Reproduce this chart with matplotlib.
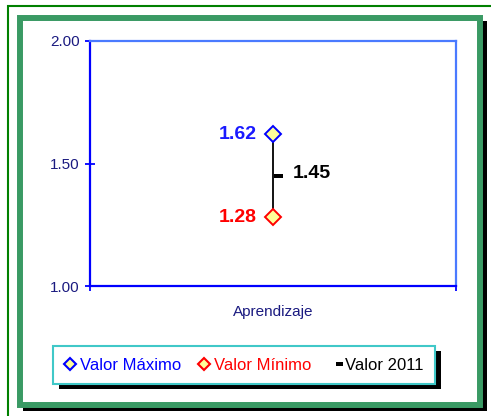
import numpy as np
import matplotlib.pyplot as plt
from matplotlib.patches import Rectangle
from matplotlib.path import Path
from matplotlib.lines import Line2D

plt.rcParams['font.family'] = ['Liberation Sans', 'DejaVu Sans']

# data
category = ["Aprendizaje"]
valor_maximo = [1.62]
valor_minimo = [1.28]
valor_2011 = [1.45]
y_ticks = [1.00, 1.50, 2.00]

W, H = 491, 416


def fx(x):
    return x / W


def fy(y):
    return 1 - y / H


fig = plt.figure(figsize=(W / 100, H / 100), dpi=100)
fig.patch.set_facecolor("white")

# outer thin green line (only left and top are visible)
fig.add_artist(Line2D([fx(7.5), fx(7.5), 1.0], [0.0, fy(5.5), fy(5.5)],
                      transform=fig.transFigure, color="#008000", lw=1.5,
                      solid_joinstyle="miter", zorder=-5))
# black shadow + thick green frame
fig.add_artist(Rectangle((fx(23), fy(411)), fx(487 - 23), (411 - 21) / H,
                         transform=fig.transFigure, facecolor="black",
                         edgecolor="none", zorder=-4))
fig.add_artist(Rectangle((fx(20), fy(405)), fx(480 - 20), (405 - 18) / H,
                         transform=fig.transFigure, facecolor="white",
                         edgecolor="#3a9a64", lw=4.3, zorder=-3))

ax = fig.add_axes([fx(90), fy(286), fx(456 - 90), (286 - 41) / H])
ax.set_facecolor("white")

x = np.arange(len(category)) + 0.5

# high-low line
for xi, lo, hi in zip(x, valor_minimo, valor_maximo):
    ax.plot([xi, xi], [lo, hi], color="black", lw=1.3, zorder=2)

# close marker: bar to the right of the line
tick_marker = Path([(0.1, -0.22), (1, -0.22), (1, 0.22), (0.1, 0.22), (0.1, -0.22)],
                   [Path.MOVETO, Path.LINETO, Path.LINETO, Path.LINETO, Path.CLOSEPOLY])
ax.plot(x, valor_2011, linestyle="none", marker=tick_marker, markersize=15,
        color="black", markeredgewidth=0, zorder=3)

ax.plot(x, valor_maximo, linestyle="none", marker="D", markersize=8,
        markerfacecolor="#ffff99", markeredgecolor="#0000ff",
        markeredgewidth=1.4, zorder=4)
ax.plot(x, valor_minimo, linestyle="none", marker="D", markersize=8,
        markerfacecolor="#ffff99", markeredgecolor="#ff0000",
        markeredgewidth=1.4, zorder=4)

for xi, v in zip(x, valor_maximo):
    ax.annotate(f"{v:.2f}", (xi, v), xytext=(-12, 0), textcoords="offset points",
                ha="right", va="center", fontsize=14, fontweight="bold",
                color="#1a1aff")
for xi, v in zip(x, valor_minimo):
    ax.annotate(f"{v:.2f}", (xi, v), xytext=(-12, 0), textcoords="offset points",
                ha="right", va="center", fontsize=14, fontweight="bold",
                color="#ff0000")
for xi, v in zip(x, valor_2011):
    ax.annotate(f"{v:.2f}", (xi, v), xytext=(14, 1.5), textcoords="offset points",
                ha="left", va="center", fontsize=14, fontweight="bold",
                color="black")

ax.set_xlim(0, len(category))
ax.set_ylim(y_ticks[0], y_ticks[-1])
ax.set_yticks(y_ticks)
ax.set_yticklabels([f"{t:.2f}" for t in y_ticks])
ax.set_xticks(np.arange(len(category) + 1))
ax.set_xticklabels([])
ax.set_xticks(x, minor=True)
ax.set_xticklabels(category, minor=True)

ax.tick_params(axis="both", which="major", direction="inout", length=7,
               width=1.3, color="#0000ff", labelsize=11, labelcolor="#1a1a80", pad=4)
ax.tick_params(axis="x", which="minor", length=0, labelsize=11,
               labelcolor="#1a1a80", pad=14)

for side in ["left", "bottom"]:
    ax.spines[side].set_color("#0000ff")
    ax.spines[side].set_linewidth(1.6)
for side in ["top", "right"]:
    ax.spines[side].set_color("#4a7aff")
    ax.spines[side].set_linewidth(1.6)

handles = [
    Line2D([], [], linestyle="none", marker="D", markersize=6.5,
           markerfacecolor="#ffff99", markeredgecolor="#0000ff", markeredgewidth=1.5),
    Line2D([], [], linestyle="none", marker="D", markersize=6.5,
           markerfacecolor="#ffff99", markeredgecolor="#ff0000", markeredgewidth=1.5),
    Line2D([], [], linestyle="none", marker=tick_marker, markersize=12,
           color="black", markeredgewidth=0),
]
leg = fig.legend(handles, ["Valor Máximo", "Valor Mínimo", "Valor 2011"],
                 loc="center", bbox_to_anchor=(fx(244), fy(365)), ncol=3,
                 fontsize=12, handlelength=0.6, handletextpad=0.3,
                 columnspacing=1.1, borderpad=0.7, fancybox=False,
                 framealpha=1, edgecolor="#40c8c8")
leg.get_frame().set_linewidth(1.5)
for t, c in zip(leg.get_texts(), ["#0000ff", "#ff0000", "black"]):
    t.set_color(c)

fig.canvas.draw()
bb = leg.get_window_extent().transformed(fig.transFigure.inverted())
fig.add_artist(Rectangle((bb.x0 + fx(6), bb.y0 - 5 / H), bb.width, bb.height,
                         transform=fig.transFigure, facecolor="black",
                         edgecolor="none", zorder=-2))

fig.savefig("out.png", dpi=100)
